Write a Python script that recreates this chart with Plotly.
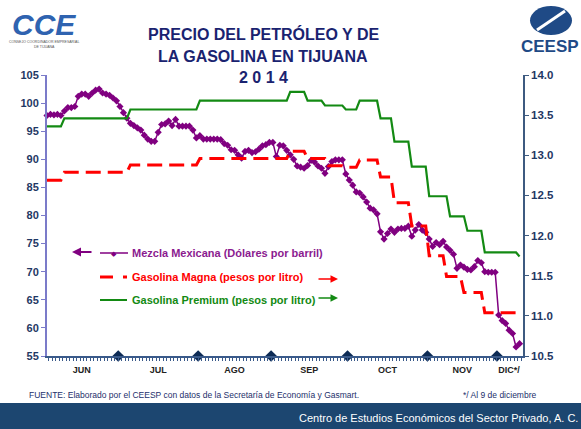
import pandas as pd
import plotly.graph_objects as go

# ---------------- data ----------------
dates = pd.bdate_range("2014-06-02", "2014-12-09")  # business days
month_labels = ["JUN", "JUL", "AGO", "SEP", "OCT", "NOV", "DIC*/"]

mezcla = [
    97.8, 98.0, 97.9, 98.0, 97.8, 98.6, 99.2, 99.2, 99.4, 101.2,
    101.6, 101.6, 101.2, 101.8, 102.3, 102.5, 101.8, 101.6, 101.4, 100.9,
    100.4, 99.4, 98.3, 97.3, 96.4, 96.0, 95.6, 95.2, 94.3, 93.6,
    93.2, 93.2, 94.8, 96.2, 96.3, 96.8, 96.0, 97.1, 95.9, 95.9,
    95.9, 95.9, 95.2, 93.8, 94.2, 93.6, 93.6, 93.6, 93.6, 93.6,
    93.5, 92.8, 92.5, 91.7, 91.6, 90.8, 90.2, 91.4, 91.6, 91.2,
    91.35, 91.8, 92.4, 92.6, 93.0, 93.0, 90.5, 92.5, 92.4, 91.6,
    90.8, 90.0, 88.8, 88.6, 88.4, 88.9, 89.8, 89.5, 88.8, 88.4,
    87.5, 88.7, 89.6, 89.9, 89.9, 89.9, 87.4, 86.3, 85.4, 84.2,
    84.0, 83.3, 82.4, 81.3, 81.0, 80.3, 77.1, 75.8, 76.8, 77.6,
    77.0, 77.6, 77.7, 77.7, 78.1, 76.3, 77.4, 78.4, 77.4, 77.0,
    75.8, 74.5, 75.2, 74.8, 75.4, 74.4, 73.8, 73.1, 70.6, 71.2,
    70.8, 70.4, 70.3, 70.9, 72.0, 71.6, 70.0, 69.9, 69.9, 69.9,
    62.3, 61.3, 60.8, 59.6, 59.0, 56.6, 57.2,
]

magna = (
    [12.69] * 5 + [12.79] * 19 + [12.88] * 20 + [12.96] * 26 + [13.05] * 5 +
    [12.96] * 6 + [12.87] * 5 + [12.85] * 4 + [12.94] * 6 + [12.73] * 4 +
    [12.41] * 5 + [12.12] * 5 + [11.75] * 5 + [11.49] * 5 + [11.29] * 6 +
    [11.04] * 10 + [10.97] * 1
)

premium = (
    [13.36] * 5 + [13.46] * 19 + [13.57] * 20 + [13.68] * 26 + [13.79] * 5 +
    [13.68] * 5 + [13.62] * 6 + [13.57] * 4 + [13.68] * 6 + [13.46] * 4 +
    [13.17] * 5 + [12.86] * 5 + [12.49] * 6 + [12.24] * 5 + [12.06] * 5 +
    [11.79] * 10 + [11.74] * 1
)

left_ticks = [55, 60, 65, 70, 75, 80, 85, 90, 95, 100, 105]
right_ticks = [10.5, 11.0, 11.5, 12.0, 12.5, 13.0, 13.5, 14.0]

# ---------------- derived positions ----------------
idx = list(range(len(dates)))
months = [d.month for d in dates]
month_order = []
for m in months:
    if m not in month_order:
        month_order.append(m)
centers = []
for m in month_order:
    ii = [i for i, mm in enumerate(months) if mm == m]
    centers.append((ii[0] + ii[-1]) / 2)
boundaries = [i - 0.5 for i in range(1, len(months)) if months[i] != months[i - 1]]

# ---------------- layout helpers ----------------
W, H = 581, 429
ML, MR, MT, MB = 47, 58, 75, 73
PW, PH = W - ML - MR, H - MT - MB


def px(x):
    return (x - ML) / PW


def py(y):
    return (H - MB - y) / PH


FONT = "Liberation Sans, Arial, sans-serif"
NAVY = "#1d2f6b"
PURPLE = "#800080"
RED = "#ff0000"
GREEN = "#138a13"

fig = go.Figure()

fig.add_trace(go.Scatter(
    x=idx, y=magna, yaxis="y2", mode="lines",
    line=dict(color=RED, width=3, dash="15px,7px"), showlegend=False,
))
fig.add_trace(go.Scatter(
    x=idx, y=premium, yaxis="y2", mode="lines",
    line=dict(color=GREEN, width=2.2), showlegend=False,
))
fig.add_trace(go.Scatter(
    x=idx, y=mezcla, mode="lines+markers",
    line=dict(color=PURPLE, width=1.5),
    marker=dict(symbol="diamond", size=5.5, color=PURPLE),
    cliponaxis=False, showlegend=False,
))
fig.add_trace(go.Scatter(
    x=boundaries, y=[left_ticks[0]] * len(boundaries), mode="markers",
    marker=dict(symbol="diamond", size=9, color="#0d2b55"),
    cliponaxis=False, showlegend=False,
))

fig.update_layout(
    width=W, height=H,
    margin=dict(l=ML, r=MR, t=MT, b=MB, pad=0),
    paper_bgcolor="white", plot_bgcolor="white",
    font=dict(family=FONT),
    xaxis=dict(
        range=[0, len(dates)], showgrid=False, zeroline=False,
        showline=True, linecolor="#3a5a8a", linewidth=1.5,
        tickmode="array", tickvals=centers, ticktext=month_labels,
        ticks="outside", ticklen=4, tickcolor="rgba(0,0,0,0)",
        tickfont=dict(size=9, color="#222222", weight="bold"),
        minor=dict(tickmode="linear", tick0=0.5, dtick=1, ticks="outside",
                   ticklen=3, tickcolor="#3a5a8a", tickwidth=1),
    ),
    yaxis=dict(
        range=[55, 105], tickvals=left_ticks, showgrid=False, zeroline=False,
        showline=True, linecolor="#7b7bc9", linewidth=2,
        ticks="outside", ticklen=4, tickcolor="#7b7bc9",
        tickfont=dict(size=11, color="#1f3864", weight="bold"),
    ),
    yaxis2=dict(
        range=[10.5, 14.0], tickvals=right_ticks, tickformat=".1f",
        overlaying="y", side="right", showgrid=False, zeroline=False,
        showline=True, linecolor="#3d5a80", linewidth=1.5,
        ticks="outside", ticklen=4, tickcolor="#3d5a80",
        tickfont=dict(size=11.5, color="#1f3864", weight="bold"),
    ),
)

ann = []
shapes = []

# Title
for text, y in [("PRECIO DEL PETRÓLEO Y DE", 34), ("LA GASOLINA EN TIJUANA", 56), ("2 0 1 4", 77)]:
    ann.append(dict(x=px(263), y=py(y), xref="paper", yref="paper", text=text,
                    showarrow=False, xanchor="center", yanchor="middle",
                    font=dict(size=16, color="#1a2370", weight="bold")))

# CCE logo (approximation)
ann.append(dict(x=px(44), y=py(24), xref="paper", yref="paper", text="<i>CCE</i>",
                showarrow=False, xanchor="center", yanchor="middle",
                font=dict(size=30, color="#2f63b0", weight="bold")))
ann.append(dict(x=px(44), y=py(44), xref="paper", yref="paper",
                text="CONSEJO COORDINADOR EMPRESARIAL<br>DE TIJUANA",
                showarrow=False, xanchor="center", yanchor="middle",
                font=dict(size=3.5, color="#555555")))

# CEESP logo (approximation)
shapes.append(dict(type="circle", xref="paper", yref="paper",
                   x0=px(530), x1=px(572), y0=py(35), y1=py(6),
                   fillcolor="#1f4a86", line=dict(width=0)))
shapes.append(dict(type="line", xref="paper", yref="paper",
                   x0=px(537), x1=px(565), y0=py(30), y1=py(11),
                   line=dict(color="white", width=3)))
ann.append(dict(x=px(550), y=py(46), xref="paper", yref="paper", text="CEESP",
                showarrow=False, xanchor="center", yanchor="middle",
                font=dict(size=17, color="#1f4a86", weight="bold")))

# Legend (in-plot)
ann.append(dict(x=px(72), y=py(252), xref="paper", yref="paper", text="",
                showarrow=True, ax=21, ay=0, arrowhead=2, arrowsize=1,
                arrowwidth=1.8, arrowcolor=PURPLE))
shapes.append(dict(type="line", xref="paper", yref="paper",
                   x0=px(100), x1=px(128), y0=py(253), y1=py(253),
                   line=dict(color=PURPLE, width=1.5)))
ann.append(dict(x=px(114), y=py(253), xref="paper", yref="paper", text="◆",
                showarrow=False, xanchor="center", yanchor="middle",
                font=dict(size=7, color=PURPLE)))
shapes.append(dict(type="line", xref="paper", yref="paper",
                   x0=px(100), x1=px(113), y0=py(277), y1=py(277),
                   line=dict(color=RED, width=3)))
shapes.append(dict(type="line", xref="paper", yref="paper",
                   x0=px(123), x1=px(127), y0=py(277), y1=py(277),
                   line=dict(color=RED, width=3)))
shapes.append(dict(type="line", xref="paper", yref="paper",
                   x0=px(100), x1=px(127), y0=py(300), y1=py(300),
                   line=dict(color=GREEN, width=2)))
ann.append(dict(x=px(338), y=py(279), xref="paper", yref="paper", text="",
                showarrow=True, ax=-21, ay=0, arrowhead=2, arrowsize=1,
                arrowwidth=1.5, arrowcolor=RED))
ann.append(dict(x=px(338), y=py(298), xref="paper", yref="paper", text="",
                showarrow=True, ax=-21, ay=0, arrowhead=2, arrowsize=1,
                arrowwidth=1.5, arrowcolor=GREEN))
for text, y, col in [("Mezcla Mexicana (Dólares por barril)", 253, "#8b1a8f"),
                     ("Gasolina Magna (pesos por litro)", 277, RED),
                     ("Gasolina Premium (pesos por litro)", 300, GREEN)]:
    ann.append(dict(x=px(130), y=py(y), xref="paper", yref="paper", text=text,
                    showarrow=False, xanchor="left", yanchor="middle",
                    font=dict(size=11, color=col, weight="bold")))

# Footer
ann.append(dict(x=px(27), y=py(395), xref="paper", yref="paper",
                text="FUENTE: Elaborado por el CEESP con datos de la Secretaría de Economía y Gasmart.",
                showarrow=False, xanchor="left", yanchor="middle",
                font=dict(size=8.5, color=NAVY)))
ann.append(dict(x=px(461), y=py(395), xref="paper", yref="paper",
                text="*/ Al 9 de diciembre",
                showarrow=False, xanchor="left", yanchor="middle",
                font=dict(size=8.5, color=NAVY)))
shapes.append(dict(type="rect", xref="paper", yref="paper",
                   x0=px(0), x1=px(W), y0=py(H), y1=py(403),
                   fillcolor="#1c4670", line=dict(width=0), layer="below"))
ann.append(dict(x=px(W - 1), y=py(418), xref="paper", yref="paper",
                text="Centro de Estudios Económicos del Sector Privado, A. C.",
                showarrow=False, xanchor="right", yanchor="middle",
                font=dict(size=11, color="white")))

fig.update_layout(annotations=ann, shapes=shapes)
fig.write_html("out.html",
               config={"displayModeBar": False},
               post_script="document.body.style.margin='0';document.body.style.overflow='hidden';")
